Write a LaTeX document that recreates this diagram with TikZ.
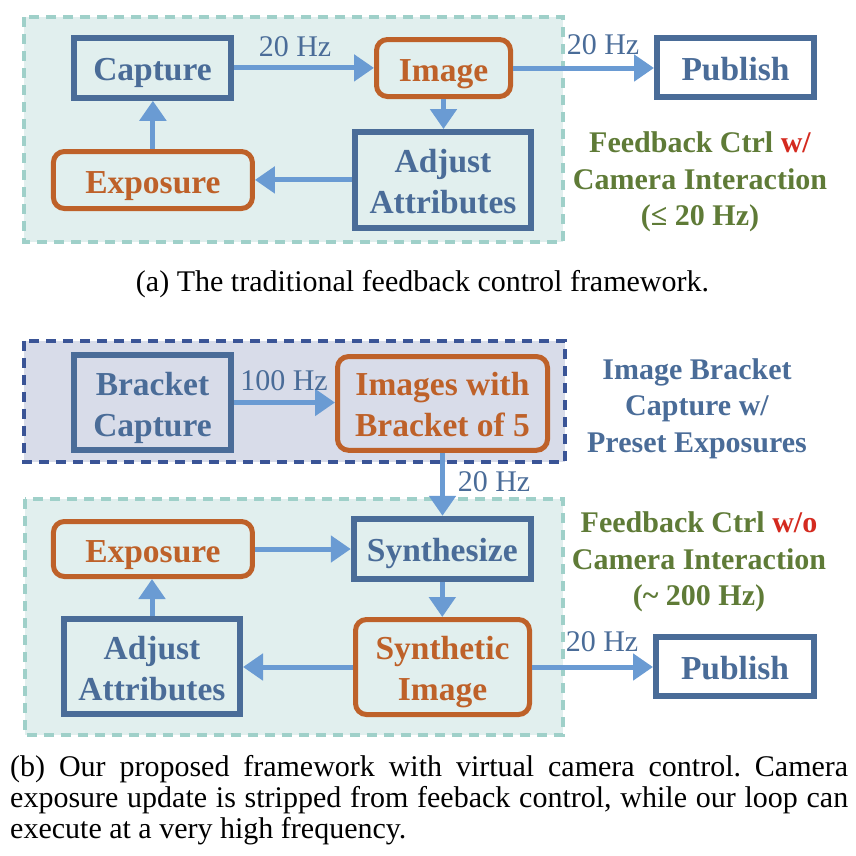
\documentclass[tikz,border=0pt]{standalone}
\usepackage{fontspec}
\setmainfont{Liberation Serif}
\usetikzlibrary{arrows.meta}
\definecolor{boxblue}{HTML}{4A6C98}
\definecolor{boxorange}{HTML}{BE6129}
\definecolor{arrowblue}{HTML}{6A9BD3}
\definecolor{tealfill}{HTML}{E1EFEE}
\definecolor{tealdash}{HTML}{9FD0C9}
\definecolor{darkfill}{HTML}{D8DCE9}
\definecolor{darkdash}{HTML}{3A5496}
\definecolor{olivetxt}{HTML}{5F7B37}
\definecolor{redw}{HTML}{D42A1F}
\frenchspacing
\newcommand\bxfont{\fontsize{33.5}{41}\selectfont\bfseries}
\newcommand\hzfont{\fontsize{30}{36}\selectfont}
\newcommand\sdfont{\fontsize{30}{36.5}\selectfont\bfseries}
\newcommand\capfont{\fontsize{30}{31}\selectfont}
\newcommand\twol[2]{\begin{tabular}[t]{@{}c@{}}#1\\#2\end{tabular}}
\newcommand\threel[3]{\begin{tabular}[t]{@{}c@{}}#1\\#2\\#3\end{tabular}}
\tikzset{
  bluebox/.style={draw=boxblue, line width=6pt, outer sep=3pt, inner sep=0pt, text=boxblue, font=\bxfont},
  orangebox/.style={draw=boxorange, line width=5pt, outer sep=2.5pt, inner sep=0pt, rounded corners=11pt, text=boxorange, font=\bxfont},
  oneline/.style={text height=26pt, text depth=0pt},
  twoline/.style={text height=26pt, text depth=41pt},
  conn/.style={draw=arrowblue, line width=5pt, -{Triangle[length=20pt,width=26pt]}},
  hz/.style={text=boxblue, font=\hzfont, anchor=base, inner sep=0pt},
  panelteal/.style={fill=tealfill, draw=tealdash, line width=4pt, dash pattern=on 10pt off 7pt},
  paneldark/.style={fill=darkfill, draw=darkdash, line width=4pt, dash pattern=on 10pt off 7pt},
  side/.style={font=\sdfont, anchor=base, inner sep=0pt},
  capt/.style={font=\capfont, text=black, inner sep=0pt}
}
\begin{document}
\begin{tikzpicture}[x=1pt,y=-1pt]
\useasboundingbox (0,0) rectangle (856,855);
% panels
\draw[panelteal] (24,17) rectangle (563,242);
\draw[paneldark] (24,340.7) rectangle (565,461.7);
\draw[panelteal] (24.5,499) rectangle (562.7,735);

% ---- (a)
\node[bluebox, oneline, minimum width=157pt, minimum height=59.7pt] (cap) at (152.5,67.9) {Capture};
\node[orangebox, oneline, minimum width=134pt, minimum height=57pt] (img) at (443.5,68) {Image};
\node[bluebox, oneline, fill=white, minimum width=157pt, minimum height=59pt] (pub) at (735.5,67.5) {Publish};
\node[bluebox, twoline, minimum width=176pt, minimum height=95.7pt] (adj) at (443,179.9) {\twol{Adjust}{Attributes}};
\node[orangebox, oneline, minimum width=199pt, minimum height=57pt] (exp) at (152.9,180) {Exposure};

\draw[conn] (cap.east) -- (cap.east -| img.west);
\draw[conn] (img.east) -- (img.east -| pub.west);
\draw[conn] (img.south) -- (img.south |- adj.north);
\draw[conn] (adj.west) -- (adj.west -| exp.east);
\draw[conn] (exp.north) -- (exp.north |- cap.south);

\node[hz] (hza1) at (295,56) {20 Hz};
\node[hz] (hza2) at (603,54) {20 Hz};
\node[side, text=olivetxt] (sidea) at (700,152.7) {\threel{Feedback Ctrl \textcolor{redw}{w/}}{Camera Interaction}{(≤ 20 Hz)}};

\node[capt, anchor=base] (capa) at (422.5,291) {(a) The traditional feedback control framework.};

% ---- (b)
\node[bluebox, twoline, minimum width=157pt, minimum height=95pt] (bcap) at (152.5,402.5) {\twol{Bracket}{Capture}};
\node[orangebox, twoline, minimum width=210pt, minimum height=93.7pt] (imgs) at (442.5,403.4) {\twol{Images with}{Bracket of 5}};
\draw[conn] (bcap.east) -- (bcap.east -| imgs.west);
\node[hz] (hzb0) at (284,390) {100 Hz};
\node[side, text=boxblue] (sideb1) at (697,379) {\threel{Image Bracket}{Capture w/}{Preset Exposures}};

\node[orangebox, oneline, minimum width=199pt, minimum height=55pt] (exp2) at (152.9,549) {Exposure};
\node[bluebox, oneline, minimum width=177pt, minimum height=60pt] (syn) at (442.3,548.8) {Synthesize};
\node[orangebox, twoline, minimum width=174pt, minimum height=95pt] (simg) at (442.5,667) {\twol{Synthetic}{Image}};
\node[bluebox, twoline, minimum width=176pt, minimum height=95pt] (adj2) at (152,666.5) {\twol{Adjust}{Attributes}};
\node[bluebox, oneline, fill=white, minimum width=158pt, minimum height=59pt] (pub2) at (735,666.5) {Publish};

\draw[conn] (imgs.south) -- (imgs.south |- syn.north);
\draw[conn] (exp2.east) -- (exp2.east -| syn.west);
\draw[conn] (syn.south) -- (syn.south |- simg.north);
\draw[conn] (simg.west) -- (simg.west -| adj2.east);
\draw[conn] (adj2.north) -- (adj2.north |- exp2.south);
\draw[conn] (simg.east) -- (simg.east -| pub2.west);

\node[hz] (hzb1) at (494,491) {20 Hz};
\node[hz] (hzb2) at (602,651.7) {20 Hz};
\node[side, text=olivetxt] (sideb2) at (699,532.7) {\threel{Feedback Ctrl \textcolor{redw}{w/o}}{Camera Interaction}{(\textasciitilde{} 200 Hz)}};

\node[capt, anchor=base west] (capb) at (10,776) {\parbox[t]{838pt}{\capfont
\makebox[838pt][s]{(b) Our proposed framework with virtual camera control. Camera}\\
\makebox[838pt][s]{exposure update is stripped from feeback control, while our loop can}\\
execute at a very high frequency.}};
\end{tikzpicture}
\end{document}
